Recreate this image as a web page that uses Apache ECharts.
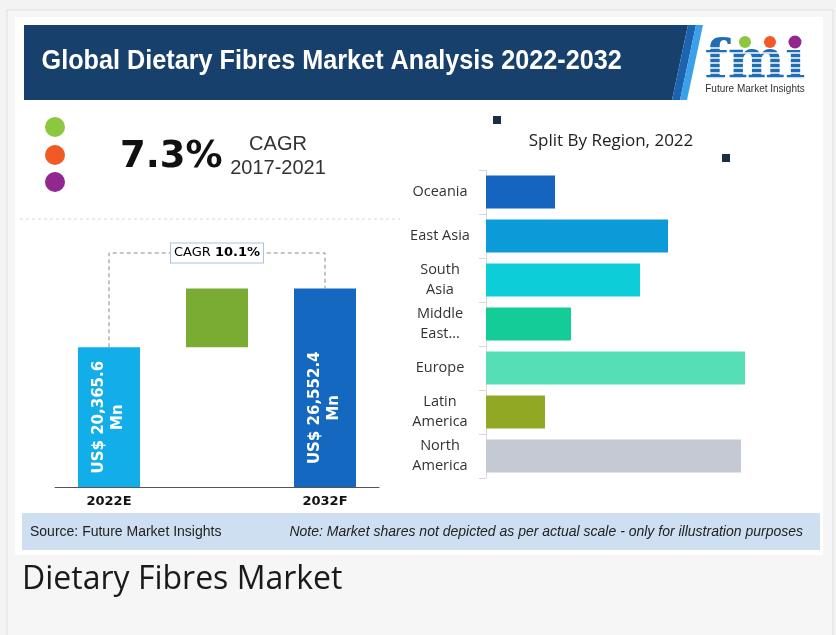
<!DOCTYPE html>
<html><head><meta charset="utf-8">
<script src="https://cdn.jsdelivr.net/npm/echarts@6/dist/echarts.min.js"></script>
<style>html,body{margin:0;padding:0;background:#f3f3f3}#c{width:836px;height:635px}</style>
</head><body><div id="c"></div>
<script>
// ---- data ----
const growthCategories = ['2022E', '', '2032F'];
const marketStart = 20365.6;   // US$ Mn, 2022E
const marketEnd = 26552.4;     // US$ Mn, 2032F
const growthLabels = ['US$ 20,365.6\nMn', '', 'US$ 26,552.4\nMn'];
const cagrForecast = '10.1%';
const cagrHistoric = '7.3%';
const historicPeriod = '2017-2021';
const regions = ['Oceania', 'East Asia', 'South\nAsia', 'Middle\nEast…', 'Europe', 'Latin\nAmerica', 'North\nAmerica'];
const regionShares = [69, 182, 154, 85, 259, 59, 255];
const titleText = 'Global Dietary Fibres Market Analysis 2022-2032';
const regionTitle = 'Split By Region, 2022';
const sourceText = 'Source: Future Market Insights';
const noteText = 'Note: Market shares not depicted as per actual scale - only for illustration purposes';
const captionText = 'Dietary Fibres Market';

// ---- styles ----
const regionPalette = ['#1565c0', '#0a9bd8', '#0ccdd8', '#13cc97', '#56dfb6', '#90a823', '#c4c9d3'];
const growthPalette = ['#12aee9', '#7aab33', '#1468c0'];
const Y_MIN = 5640, Y_MAX = 30300;

const chart = echarts.init(document.getElementById('c'), null, {renderer: 'canvas'});

const option = {
  animation: false,
  backgroundColor: '#f3f3f3',
  grid: [
    {left: 55, width: 324, top: 253, bottom: 148},
    {left: 486, width: 260, top: 170, height: 308}
  ],
  xAxis: [
    {gridIndex: 0, type: 'category', data: growthCategories,
     axisLine: {lineStyle: {color: '#555', width: 1}}, axisTick: {show: false},
     axisLabel: {color: '#111', fontWeight: 'bold', fontSize: 13, margin: 8, fontFamily: 'DejaVu Sans'}},
    {gridIndex: 1, type: 'value', min: 0, max: 260, show: false}
  ],
  yAxis: [
    {gridIndex: 0, type: 'value', min: Y_MIN, max: Y_MAX, show: false},
    {gridIndex: 1, type: 'category', data: regions, inverse: true,
     axisLine: {lineStyle: {color: '#d9d9d9'}},
     axisTick: {show: true, length: 7, lineStyle: {color: '#d9d9d9'}},
     axisLabel: {align: 'center', margin: 46, fontSize: 14.5, color: '#333', lineHeight: 20, fontFamily: 'Open Sans'}}
  ],
  series: [
    {type: 'bar', xAxisIndex: 0, yAxisIndex: 0, barWidth: 62, barGap: '-100%',
     data: [marketStart, '-', marketEnd].map((v, i) => ({value: v, itemStyle: {color: growthPalette[i]},
       label: i === 2 ? {offset: [-20, 0]} : {}})),
     label: {show: true, position: 'inside', rotate: 90, color: '#fff', fontWeight: 'bold', fontSize: 15, lineHeight: 19,
       fontFamily: 'DejaVu Sans', formatter: p => growthLabels[p.dataIndex]}},
    {type: 'bar', xAxisIndex: 0, yAxisIndex: 0, barWidth: 62, barGap: '-100%', stack: 'g',
     data: ['-', marketStart, '-'], itemStyle: {color: 'rgba(0,0,0,0)'}},
    {type: 'bar', xAxisIndex: 0, yAxisIndex: 0, barWidth: 62, barGap: '-100%', stack: 'g',
     data: ['-', marketEnd - marketStart, '-'], itemStyle: {color: growthPalette[1]}},
    {type: 'custom', xAxisIndex: 0, yAxisIndex: 0, data: [[0]], silent: true, z: 5,
     renderItem: (params, api) => {
       const a = api.coord([0, marketStart]);
       const b = api.coord([0, Y_MAX]);
       const c = api.coord([2, Y_MAX]);
       const d = api.coord([2, marketEnd]);
       const mx = (b[0] + c[0]) / 2;
       return {type: 'group', children: [
         {type: 'polyline', shape: {points: [a, b, c, d]},
          style: {stroke: '#8a8a8a', lineWidth: 1, lineDash: [4, 3], fill: null}},
         {type: 'text', x: mx, y: b[1], z2: 10,
          style: {text: '{n|CAGR }{b|' + cagrForecast + '}', align: 'center', verticalAlign: 'middle',
            backgroundColor: '#fff', borderColor: '#a9c1dc', borderWidth: 1, padding: [3, 3, 3, 3],
            rich: {n: {fontSize: 13, color: '#333', fontFamily: 'DejaVu Sans'},
                   b: {fontSize: 13, color: '#222', fontWeight: 'bold', fontFamily: 'DejaVu Sans'}}}}
       ]};
     }},
    {type: 'bar', xAxisIndex: 1, yAxisIndex: 1, barWidth: 33,
     data: regionShares.map((v, i) => ({value: v, itemStyle: {color: regionPalette[i]}}))}
  ],
  graphic: [
    {type: 'rect', shape: {x: 7, y: 10, width: 826, height: 640}, style: {fill: '#f6f6f6', stroke: '#dedede', lineWidth: 1}, z: -10},
    {type: 'rect', shape: {x: 15, y: 17, width: 808, height: 538}, style: {fill: '#ffffff'}, z: -9},
    {type: 'polygon', shape: {points: [[24, 25], [688, 25], [672, 100], [24, 100]]}, style: {fill: '#17406d'}, z: -5},
    {type: 'polygon', shape: {points: [[688, 25], [696, 25], [680, 100], [672, 100]]}, style: {fill: '#1d64b0'}, z: -5},
    {type: 'polygon', shape: {points: [[696, 25], [703, 25], [687, 100], [680, 100]]}, style: {fill: '#3aa0ea'}, z: -5},
    {type: 'text', x: 39, y: 62, scaleX: 0.934, originX: 39, originY: 62,
     style: {text: titleText, fill: '#fff', font: 'bold 27px "Liberation Sans", sans-serif', verticalAlign: 'middle'}},
    // logo
    {type: 'text', x: 755, y: 91, style: {text: 'fmi', fill: '#1e6db5', font: 'bold 54px "DejaVu Serif", serif', align: 'center', verticalAlign: 'bottom'}},
    ...[48, 53, 58, 63, 68, 73, 78].map(y => ({type: 'line', shape: {x1: 700, y1: y, x2: 812, y2: y}, style: {stroke: '#fff', lineWidth: 1.3}})),
    {type: 'circle', shape: {cx: 745, cy: 42, r: 6}, style: {fill: '#8dc63f'}},
    {type: 'circle', shape: {cx: 770, cy: 42, r: 6}, style: {fill: '#f15a24'}},
    {type: 'circle', shape: {cx: 795, cy: 42, r: 6.5}, style: {fill: '#92278f'}},
    {type: 'text', x: 755, y: 89, style: {text: 'Future Market Insights', fill: '#333', font: '10px "Liberation Sans", sans-serif', align: 'center', verticalAlign: 'middle'}},
    // left summary
    {type: 'circle', shape: {cx: 55, cy: 127, r: 10}, style: {fill: '#8dc63f'}},
    {type: 'circle', shape: {cx: 55, cy: 155, r: 10}, style: {fill: '#f15a24'}},
    {type: 'circle', shape: {cx: 55, cy: 182, r: 10}, style: {fill: '#92278f'}},
    {type: 'text', x: 120, y: 157, style: {text: cagrHistoric, fill: '#111', font: 'bold 37px "DejaVu Sans", sans-serif', verticalAlign: 'middle'}},
    {type: 'text', x: 278, y: 144, style: {text: 'CAGR', fill: '#333', font: '20px "Liberation Sans", sans-serif', align: 'center', verticalAlign: 'middle'}},
    {type: 'text', x: 278, y: 168, style: {text: historicPeriod, fill: '#333', font: '20px "Liberation Sans", sans-serif', align: 'center', verticalAlign: 'middle'}},
    {type: 'line', shape: {x1: 20, y1: 219, x2: 400, y2: 219}, style: {stroke: '#d6d6d6', lineWidth: 1, lineDash: [3, 3]}},
    // right title
    {type: 'rect', shape: {x: 493, y: 116, width: 8, height: 8}, style: {fill: '#1b2e45'}},
    {type: 'rect', shape: {x: 722, y: 154, width: 8, height: 8}, style: {fill: '#1b2e45'}},
    {type: 'text', x: 611, y: 141, style: {text: regionTitle, fill: '#222', font: '17px "Open Sans", sans-serif', align: 'center', verticalAlign: 'middle'}},
    // footer
    {type: 'rect', shape: {x: 22, y: 513, width: 798, height: 37}, style: {fill: '#cddff1'}},
    {type: 'text', x: 30, y: 532, style: {text: sourceText, fill: '#222', font: '14px "Liberation Sans", sans-serif', verticalAlign: 'middle'}},
    {type: 'text', x: 803, y: 532, style: {text: noteText, fill: '#222', font: 'italic 14px "Liberation Sans", sans-serif', align: 'right', verticalAlign: 'middle'}},
    {type: 'text', x: 22, y: 580, style: {text: captionText, fill: '#1a1a1a', font: '32px "Open Sans", sans-serif', verticalAlign: 'middle'}}
  ]
};
chart.setOption(option);
</script>
</body></html>
